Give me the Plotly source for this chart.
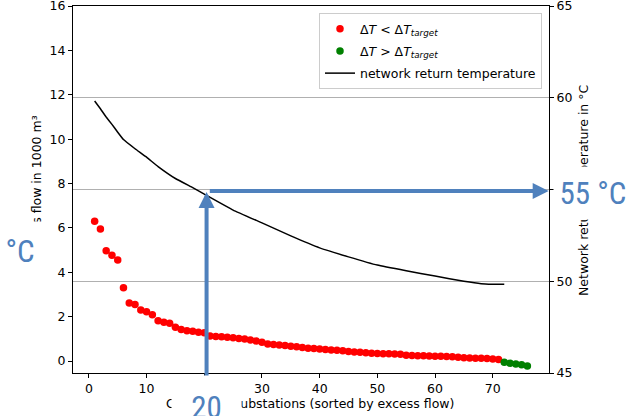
import plotly.graph_objects as go

# ---- data ----
red_x = list(range(1, 72))
red_y = [6.30, 5.95, 4.97, 4.77, 4.55, 3.30, 2.62, 2.55, 2.30, 2.22,
         2.08, 1.82, 1.75, 1.70, 1.52, 1.42, 1.36, 1.34, 1.30, 1.27,
         1.13, 1.11, 1.09, 1.07, 1.05, 1.02, 0.99, 0.95, 0.90, 0.85,
         0.77, 0.74, 0.72, 0.70, 0.67, 0.64, 0.61, 0.58, 0.56, 0.54,
         0.52, 0.50, 0.48, 0.46, 0.43, 0.41, 0.39, 0.37, 0.35, 0.34,
         0.33, 0.33, 0.32, 0.31, 0.26, 0.25, 0.24, 0.24, 0.23, 0.22,
         0.21, 0.20, 0.19, 0.17, 0.15, 0.14, 0.13, 0.12, 0.11, 0.09,
         0.07]
green_x = [72, 73, 74, 75, 76]
green_y = [-0.06, -0.10, -0.13, -0.17, -0.22]
line_x = [1, 2, 3, 4, 5, 6, 8, 10, 12, 15, 18, 20, 25, 30, 35, 40, 45, 50,
          55, 60, 65, 68, 70, 72]
line_y = [59.82, 59.40, 58.95, 58.55, 58.12, 57.72, 57.22, 56.76, 56.25,
          55.60, 55.10, 54.75, 53.88, 53.18, 52.47, 51.82, 51.33, 50.88,
          50.57, 50.28, 50.00, 49.87, 49.84, 49.83]
x_ticks = [0, 10, 20, 30, 40, 50, 60, 70]
y_ticks = [0, 2, 4, 6, 8, 10, 12, 14, 16]
y2_ticks = [45, 50, 55, 60, 65]
marker_x = 20.4
marker_t = 54.92
marker_x_label = "20"
marker_t_label = "55 °C"

BLUE = "#4F81BD"
FONT = "DejaVu Sans"
BIG = "Liberation Sans Narrow, Roboto Condensed, Arial Narrow, sans-serif"

W, H = 633, 416
L, R, T, B = 73, 84, 6, 43
PW, PH = W - L - R, H - T - B


def px_x(p):
    return (p - L) / PW


def px_y(p):
    return (H - B - p) / PH


fig = go.Figure()
fig.add_trace(go.Scatter(
    x=red_x, y=red_y, mode="markers", name="Δ<i>T</i> &lt; Δ<i>T</i><sub><i>target</i></sub>",
    marker=dict(color="red", size=7.5), legendgroup="a"))
fig.add_trace(go.Scatter(
    x=green_x, y=green_y, mode="markers", name="Δ<i>T</i> &gt; Δ<i>T</i><sub><i>target</i></sub>",
    marker=dict(color="green", size=7.5), legendgroup="b"))
fig.add_trace(go.Scatter(
    x=line_x, y=line_y, mode="lines", name="network return temperature",
    line=dict(color="black", width=1.5, shape="spline", smoothing=0.3),
    yaxis="y2", legendgroup="c"))

ann = []
# axis titles
ann.append(dict(text="Excess flow in 1000 m³", textangle=-90, x=px_x(36), y=px_y(188),
                xref="paper", yref="paper", showarrow=False, xanchor="center", yanchor="middle",
                font=dict(family=FONT, size=12.5, color="black")))
ann.append(dict(text="Network return temperature in °C", textangle=-90, x=px_x(583), y=px_y(190),
                xref="paper", yref="paper", showarrow=False, xanchor="center", yanchor="middle",
                font=dict(family=FONT, size=12.5, color="black")))
ann.append(dict(text="Consumer substations (sorted by excess flow)", x=px_x(310), y=px_y(403),
                xref="paper", yref="paper", showarrow=False, xanchor="center", yanchor="middle",
                font=dict(family=FONT, size=12.5, color="black")))
# arrows
ann.append(dict(text="", x=marker_x, y=54.87, xref="x", yref="y2",
                ax=marker_x, ay=43.5, axref="x", ayref="y2",
                showarrow=True, arrowhead=2, arrowsize=0.8, arrowwidth=4, arrowcolor=BLUE, standoff=0))
ann.append(dict(text="", x=79.7, y=marker_t, xref="x", yref="y2",
                ax=marker_x + 0.3, ay=marker_t, axref="x", ayref="y2",
                showarrow=True, arrowhead=2, arrowsize=0.8, arrowwidth=4, arrowcolor=BLUE, standoff=0))
# big blue labels with white boxes
ann.append(dict(text="°C", x=px_x(20), y=px_y(251), xref="paper", yref="paper",
                showarrow=False, xanchor="center", yanchor="middle", width=44, height=58,
                bgcolor="white", borderpad=0, font=dict(family=BIG, size=31, color=BLUE)))
ann.append(dict(text=marker_t_label, x=px_x(593), y=px_y(192.5), xref="paper", yref="paper",
                showarrow=False, xanchor="center", yanchor="middle", width=78, height=52,
                bgcolor="white", borderpad=0, font=dict(family=BIG, size=31, color=BLUE)))
ann.append(dict(text=marker_x_label, x=px_x(206.5), y=px_y(407), xref="paper", yref="paper",
                showarrow=False, xanchor="center", yanchor="middle", width=69, height=62,
                bgcolor="white", borderpad=0, font=dict(family=BIG, size=31, color=BLUE)))

axis_common = dict(showline=True, linecolor="black", linewidth=1, ticks="outside",
                   ticklen=4, tickwidth=1, tickcolor="black", zeroline=False,
                   ticklabeloverflow="allow", automargin=False,
                   tickfont=dict(family=FONT, size=12.5, color="black"))

fig.update_layout(
    width=W, height=H,
    margin=dict(l=L, r=R, t=T, b=B, autoexpand=False),
    paper_bgcolor="white", plot_bgcolor="white",
    showlegend=True,
    legend=dict(x=px_x(542), y=px_y(13), xanchor="right", yanchor="top",
                bgcolor="rgba(255,255,255,0.8)", bordercolor="#cccccc", borderwidth=1,
                font=dict(family=FONT, size=12.5, color="black"),
                traceorder="grouped", tracegroupgap=3),
    xaxis=dict(range=[-2.75, 79.75], tickvals=x_ticks, showgrid=False, mirror=True, **axis_common),
    yaxis=dict(range=[-0.54, 16.0001], tickvals=y_ticks, showgrid=False, **axis_common),
    yaxis2=dict(range=[45, 65.0001], tickvals=y2_ticks, overlaying="y", side="right",
                showgrid=True, gridcolor="#b0b0b0", gridwidth=1, **axis_common),
    annotations=ann,
)

fig.write_html("out.html")
